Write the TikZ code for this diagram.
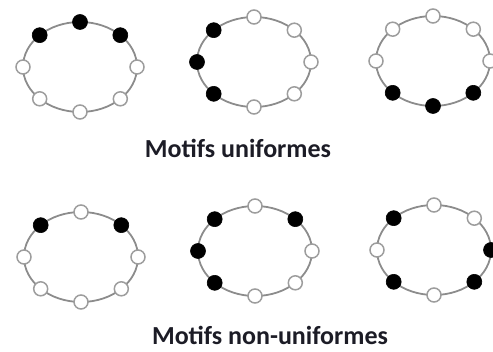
\documentclass[tikz,border=0pt]{standalone}
\usepackage{fontspec}
\setmainfont{Carlito}
\usepackage{xcolor}
\definecolor{ringgray}{HTML}{8C8C8C}
\definecolor{inkdark}{HTML}{1C1C26}

\begin{document}
\begin{tikzpicture}[
    x=1pt, y=-1pt,
    every node/.style={font=\fontsize{26}{30}\selectfont\bfseries, text=inkdark},
    capText/.style={anchor=base, inner sep=0.5pt},
    ringLine/.style={draw=ringgray, line width=1.8pt},
    bead0/.style={circle, draw=ringgray!85, fill=white, line width=1.5pt, minimum size=14pt, inner sep=0pt},
    bead1/.style={circle, draw=black, fill=black, line width=0.6pt, minimum size=15pt, inner sep=0pt}
]
    \useasboundingbox (0,0) rectangle (493,352);

    % Six motifs: numero / centre / etat des 8 positions (0 = blanc, 1 = noir)
    \foreach \n/\cx/\cy/\bits in {1/80/67/{0,1,1,1,0,0,0,0},
                                  2/254/62/{0,0,0,1,1,1,0,0},
                                  3/433/61/{0,0,0,0,0,1,1,1},
                                  4/81/257/{0,1,0,1,0,0,0,0},
                                  5/255/251/{0,1,0,1,1,1,0,0},
                                  6/434/250/{1,0,0,1,0,1,0,1}}{
        \coordinate (c\n) at (\cx,\cy);
        \draw[ringLine] (c\n) ellipse [x radius=57, y radius=45];
        \foreach \s [count=\k from 0] in \bits
            \node[bead\s] (b\n-\k) at ({\cx+57*cos(45*\k)},{\cy-45*sin(45*\k)}) {};
    }

    % Legendes
    \node[capText] (capU) at (238,158) {Motifs uniformes};
    \node[capText] (capN) at (270,345) {Motifs non-uniformes};
\end{tikzpicture}
\end{document}
